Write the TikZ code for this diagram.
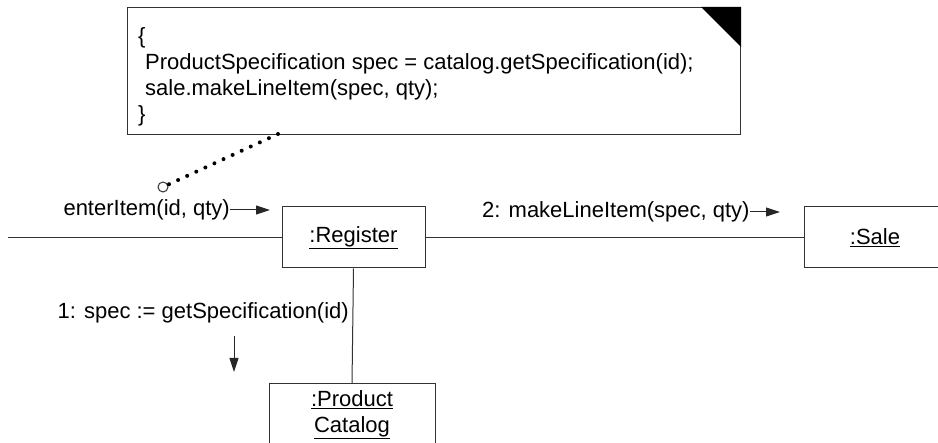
\documentclass[tikz,border=0pt]{standalone}
\usepackage{fontspec}
\setmainfont{Liberation Sans}
\usetikzlibrary{arrows.meta, calc}

\begin{document}
\begin{tikzpicture}[
    x=1pt, y=-1pt,
    every node/.style = {font=\fontsize{22}{26}\selectfont},
    obj/.style  = {rectangle, draw=black!80, line width=1pt,
                   minimum height=61pt, align=center, inner sep=0pt},
    txt/.style  = {inner sep=0pt},
    link/.style = {draw=black!80, line width=1pt},
    msg/.style  = {-{Triangle[length=14pt, width=9pt]}, black!85, line width=1pt},
    pin/.style  = {black, line width=4pt, line cap=round, dash pattern=on 0pt off 10pt}
]
\useasboundingbox (0,0) rectangle (938,443);

% Note
\node[draw=black!80, line width=1pt, minimum width=613pt, minimum height=127pt,
      anchor=north west, inner sep=0pt] (note) at (127,7) {};
\fill (note.north east) -- ++(-40,0) -- ++(40,40) -- cycle;
\node[txt, anchor=base west] (l1) at (138,44)  {\{};
\node[txt, anchor=base west] (l2) at (145,70)  {ProductSpecification spec = catalog.getSpecification(id);};
\node[txt, anchor=base west] (l3) at (145,96)  {sale.makeLineItem(spec, qty);};
\node[txt, anchor=base west] (l4) at (138,122) {\}};

% Objects
\node[obj, minimum width=143pt] (reg)  at (353.5,237.5) {\underline{:Register}};
\node[obj, minimum width=142pt] (sale) at (875,237.5)   {\underline{:Sale}};
\node[obj, minimum width=166pt, minimum height=62pt] (cat) at (352,415)
      {\underline{:Product}\\\underline{Catalog}};

% Links
\coordinate (in) at (8,237.5);
\draw[link] (in) -- (reg.west);
\draw[link] (reg.east) -- (sale.west);
\draw[link] (reg.south) -- (cat.north);

% Note anchor
\coordinate (notepin) at (278,134);
\node[circle, draw=black!80, line width=1pt, minimum size=10pt, inner sep=0pt] (ring) at (163,187) {};
\draw[pin] (notepin) -- (ring);

% Messages
\node[txt, anchor=east] (enter) at (230,210) {enterItem(id, qty)};
\coordinate (enterend) at (270,210);
\draw[msg] (enter.east) -- (enterend);

\node[txt, anchor=west] (make) at (482,212) {2: makeLineItem(spec, qty)};
\coordinate (makeend) at (780,212);
\draw[msg] (make.east) -- (makeend);

\node[txt, anchor=east] (getspec) at (349,313) {1: spec := getSpecification(id)};
\coordinate (gettop) at (234,336);
\coordinate (getbot) at (234,372);
\draw[msg] (gettop) -- (getbot);
\end{tikzpicture}
\end{document}
